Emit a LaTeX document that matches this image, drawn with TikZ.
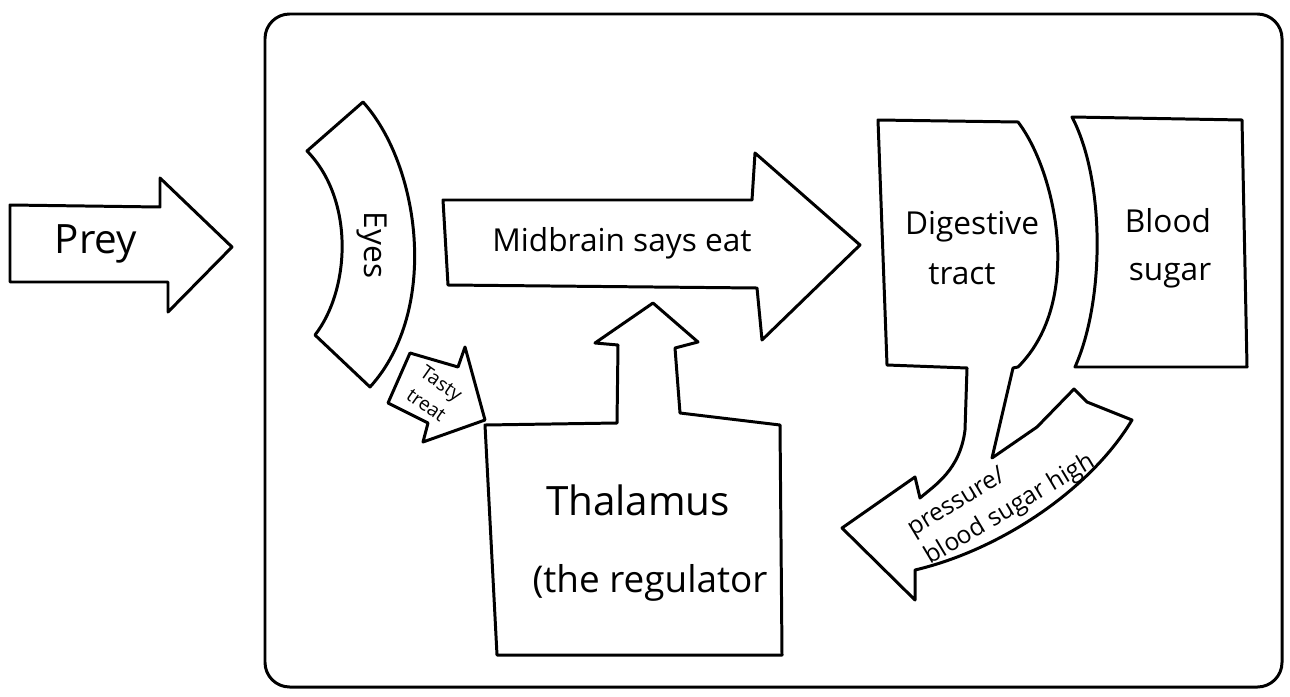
\documentclass[tikz,border=0pt]{standalone}
\usepackage{fontspec}
\setmainfont{Open Sans}
\begin{document}
\begin{tikzpicture}[
        x=0.02cm, y=-0.02cm,
        outline/.style={
            draw=black,
            line width=1.7pt,
            line join=round,
            line cap=round
        },
        frame/.style={
            outline,
            rounded corners=14pt
        },
        hand/.style={
            inner sep=0pt,
            font=\fontsize{18}{24}\selectfont
        },
        bighand/.style={
            hand,
            font=\fontsize{21}{28}\selectfont
        },
        smallhand/.style={
            hand,
            align=center,
            font=\fontsize{11}{15}\selectfont
        }
    ]

    \useasboundingbox (0,0) rectangle (1290,696);

    % Marco del organismo
    \draw[frame] (265,14) rectangle (1282,687);

    % Flecha de entrada
    \draw[outline] (10,205) -- (160,207) -- (160,178) -- (232,247)
        -- (168,312) -- (168,282) -- (10,282) -- cycle;
    \node[bighand,font=\fontsize{23}{30}\selectfont] (prey) at (96,244) {Prey};

    % Ojos
    \draw[outline] (307,151) -- (363,102)
        .. controls (420,165) and (440,310) .. (370,387)
        -- (315,335)
        .. controls (350,290) and (355,200) .. (307,151) -- cycle;
    \node[hand,rotate=-90] (eyes) at (372,245) {Eyes};

    % Flecha pequeña hacia el tálamo
    \draw[outline] (410,353) -- (388,403) -- (428,423) -- (423,442)
        -- (485,420) -- (465,347) -- (458,367) -- cycle;
    \node[smallhand,rotate=-35] (treat) at (434,394) {Tasty\\treat};

    % Mesencéfalo
    \draw[outline] (443,200) -- (752,200) -- (755,153) -- (860,245)
        -- (762,340) -- (757,288) -- (448,285) -- cycle;
    \node[hand] (midbrain) at (622,243) {Midbrain says eat};

    % Tálamo con su flecha
    \draw[outline] (485,425) -- (617,423) -- (618,345) -- (595,343)
        -- (653,303) -- (698,342) -- (675,348) -- (680,413)
        -- (780,425) -- (782,655) -- (497,655) -- cycle;
    \node[bighand,font=\fontsize{23}{30}\selectfont] (thalamus) at (638,500) {Thalamus};
    \node[bighand] (regulator) at (650,583) {(the regulator};

    % Flecha de retorno
    \draw[outline] (967,368) -- (965,430)
        .. controls (960,470) and (935,485) .. (920,498)
        -- (915,477) -- (842,528) -- (915,600) -- (915,570)
        .. controls (1000,550) and (1090,490) .. (1132,420)
        -- (1087,402) -- (1074,389) -- (1037,427) -- (992,458)
        -- (1013,368);
    \node[hand,align=left,font=\fontsize{14}{19}\selectfont,rotate=31]
        (pressure) at (1002,496) {pressure/\\blood sugar high};

    % Tracto digestivo
    \draw[outline] (967,368) -- (887,365) -- (878,120) -- (1018,122)
        .. controls (1055,170) and (1085,300) .. (1018,367)
        -- (1013,368);
    \node[hand] (digestive) at (972,227) {Digestive};
    \node[hand] (tract) at (962,274) {tract};

    % Azúcar en sangre
    \draw[outline] (1072,117) -- (1242,120) -- (1247,367) -- (1075,367)
        .. controls (1105,300) and (1105,180) .. (1072,117) -- cycle;
    \node[hand] (blood) at (1168,221) {Blood};
    \node[hand] (sugar) at (1170,276) {sugar};

\end{tikzpicture}
\end{document}
